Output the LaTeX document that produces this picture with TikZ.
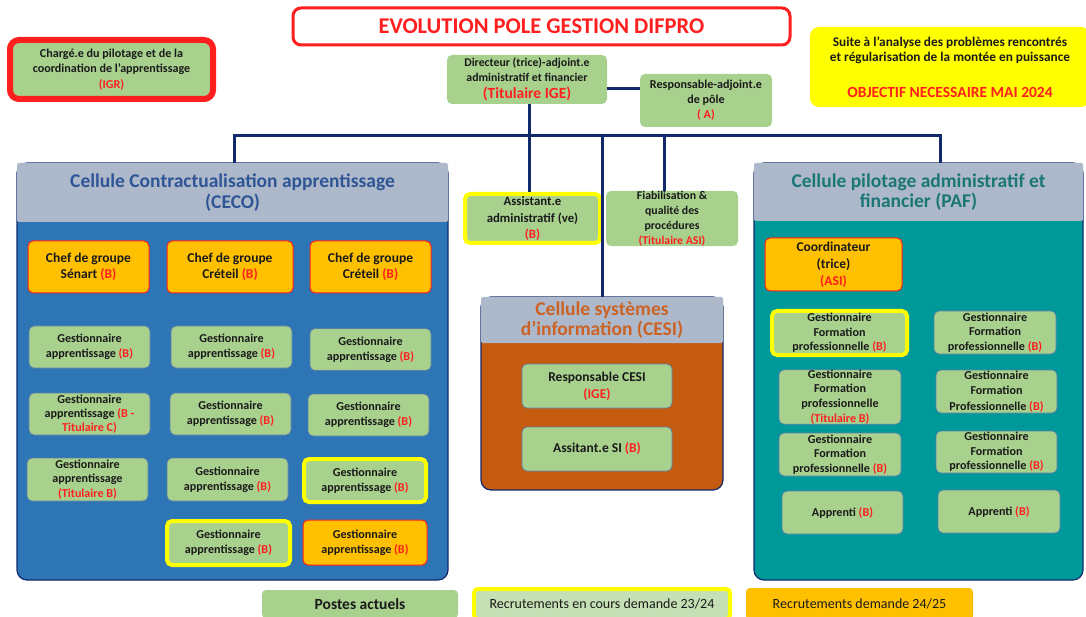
\documentclass[tikz,border=0pt]{standalone}
\usepackage{fontspec}
\setmainfont{Carlito}
\definecolor{gfill}{HTML}{A9D18E}
\definecolor{lgfill}{HTML}{C5E0B4}
\definecolor{ofill}{HTML}{FFC000}
\definecolor{tred}{HTML}{FF1F1F}
\definecolor{yel}{HTML}{FFFF00}
\definecolor{navy}{HTML}{102A6B}
\definecolor{hgray}{HTML}{ADB9CA}
\definecolor{cecob}{HTML}{2E75B6}
\definecolor{cecot}{HTML}{2F5597}
\definecolor{cesib}{HTML}{C55A11}
\definecolor{cesit}{HTML}{CC6224}
\definecolor{pafb}{HTML}{009999}
\definecolor{paft}{HTML}{1B7676}
\definecolor{bbord}{HTML}{5A7FA8}
\definecolor{txt}{HTML}{1A1A1A}
\newcommand{\redtx}[1]{\textcolor{tred}{#1}}
\tikzset{
  box/.style={rounded corners=5pt, align=center, inner sep=0pt, text=txt,
              font=\fontsize{12.1}{15}\selectfont\bfseries},
  gbox/.style={box, fill=gfill, draw=bbord, line width=0.7pt},
  obox/.style={box, fill=ofill, draw=tred, line width=1pt},
  ybox/.style={box, fill=gfill, draw=yel, line width=4pt},
  chef/.style={obox, font=\fontsize{13.5}{16.5}\selectfont\bfseries},
  link/.style={draw=navy, line width=3pt},
  cell/.style={draw=navy, line width=1.2pt, rounded corners=10pt, inner sep=0pt},
  hdr/.style={fill=hgray, rounded corners=2pt, inner sep=0pt, align=center,
              font=\fontsize{19.5}{20.5}\selectfont\bfseries}
}
\begin{document}
\begin{tikzpicture}[x=1pt,y=-1pt]
\useasboundingbox (0,0) rectangle (1086,617);
\clip (0,0) rectangle (1086,617);

% top
\node[box, draw=tred, line width=3pt, fill=white, rounded corners=8pt,
      minimum width=497, minimum height=37, text=tred,
      font=\fontsize{22.5}{26}\selectfont\bfseries] (title) at (541.5,26.5) {EVOLUTION POLE GESTION DIFPRO};
\node[box, fill=gfill, draw=tred, line width=6pt, rounded corners=9pt,
      minimum width=203, minimum height=59, font=\fontsize{12.1}{15.5}\selectfont\bfseries] (igr) at (111.5,69.5)
      {Chargé.e du pilotage et de la\\coordination de l'apprentissage\\\redtx{(IGR)}};
\node[box, fill=gfill, minimum width=160, minimum height=49, font=\fontsize{11.8}{14.5}\selectfont\bfseries] (dir) at (527,79.5)
      {Directeur (trice)-adjoint.e\\administratif et financier\\[3pt]{\fontsize{15.5}{17}\selectfont\bfseries\redtx{(Titulaire IGE)}}};
\node[box, fill=gfill, minimum width=132, minimum height=53] (resp) at (706,100.5)
      {Responsable-adjoint.e\\de pôle\\\redtx{( A)}};
\node[box, fill=yel, rounded corners=9pt, minimum width=280, minimum height=80,
      font=\fontsize{13.3}{15.7}\selectfont\bfseries] (note) at (950,67)
      {Suite à l'analyse des problèmes rencontrés\\et régularisation de la montée en puissance\\[20pt]{\fontsize{15.5}{18}\selectfont\redtx{OBJECTIF NECESSAIRE MAI 2024}}};

% cells
\node[cell, fill=cecob, minimum width=431, minimum height=417] (ceco) at (232.5,371.5) {};
\node[hdr, minimum width=431, minimum height=59, text=cecot] (cecoH) at (232.5,192.5)
      {Cellule Contractualisation apprentissage\\(CECO)};
\node[cell, fill=cesib, minimum width=242, minimum height=193] (cesi) at (602,393.5) {};
\node[hdr, minimum width=242, minimum height=46, text=cesit] (cesiH) at (602,320)
      {Cellule systèmes\\d'information (CESI)};
\node[cell, fill=pafb, minimum width=329, minimum height=417] (paf) at (918.5,371.5) {};
\node[hdr, minimum width=329, minimum height=58, text=paft] (pafH) at (918.5,192)
      {Cellule pilotage administratif et\\financier (PAF)};

% middle boxes
\node[ybox, minimum width=135, minimum height=49, font=\fontsize{12.8}{16.5}\selectfont\bfseries] (asst) at (532.5,218.5)
      {Assistant.e\\administratif (ve)\\\redtx{(B)}};
\node[box, fill=gfill, minimum width=132, minimum height=49, font=\fontsize{11.8}{15}\selectfont\bfseries] (fiab) at (672,218.5)
      {Fiabilisation \&\\qualité des\\procédures\\\redtx{(Titulaire ASI)}};

% connectors
\coordinate (busL) at (234,136);
\coordinate (busR) at (940,136);
\coordinate (fx) at (664,136);
\coordinate (dy) at (0,89);
\draw[link] (busL |- cecoH.north) -- (busL) -- (busR) -- (busR |- pafH.north);
\draw[link] ([xshift=2pt]dir.south) -- ([xshift=2pt]dir.south |- asst.north);
\draw[link] (cesiH.north |- busL) -- (cesiH.north);
\draw[link] (fx) -- (fx |- fiab.north);
\draw[link] (dir.east |- dy) -- (resp.west |- dy);

% CECO content
\node[chef, minimum width=121, minimum height=52] (c1) at (88.5,267) {Chef de groupe\\Sénart \redtx{(B)}};
\node[chef, minimum width=126, minimum height=52] (c2) at (230,267) {Chef de groupe\\Créteil \redtx{(B)}};
\node[chef, minimum width=121, minimum height=52] (c3) at (370.5,267) {Chef de groupe\\Créteil \redtx{(B)}};

\node[gbox, minimum width=121, minimum height=42] (g21) at (89.5,347) {Gestionnaire\\apprentissage \redtx{(B)}};
\node[gbox, minimum width=121, minimum height=42] (g22) at (231.5,347) {Gestionnaire\\apprentissage \redtx{(B)}};
\node[gbox, minimum width=121, minimum height=42] (g23) at (370.5,349.5) {Gestionnaire\\apprentissage \redtx{(B)}};

\node[gbox, minimum width=121, minimum height=42, font=\fontsize{12.1}{14}\selectfont\bfseries] (g31) at (89.5,414)
      {Gestionnaire\\apprentissage \redtx{(B -}\\\redtx{Titulaire C)}};
\node[gbox, minimum width=121, minimum height=42] (g32) at (230.5,414) {Gestionnaire\\apprentissage \redtx{(B)}};
\node[gbox, minimum width=121, minimum height=42] (g33) at (368.5,415) {Gestionnaire\\apprentissage \redtx{(B)}};

\node[gbox, minimum width=121, minimum height=43, font=\fontsize{12.1}{14.5}\selectfont\bfseries] (g41) at (87.5,479.5)
      {Gestionnaire\\apprentissage\\\redtx{(Titulaire B)}};
\node[gbox, minimum width=121, minimum height=43] (g42) at (227.5,479.5) {Gestionnaire\\apprentissage \redtx{(B)}};
\node[ybox, minimum width=122, minimum height=43] (g43) at (365,480.5) {Gestionnaire\\apprentissage \redtx{(B)}};

\node[ybox, minimum width=123, minimum height=44] (g52) at (228.5,543) {Gestionnaire\\apprentissage \redtx{(B)}};
\node[obox, minimum width=124, minimum height=45] (g53) at (365,542.5) {Gestionnaire\\apprentissage \redtx{(B)}};

% CESI content
\node[gbox, minimum width=150, minimum height=44, font=\fontsize{13.5}{17}\selectfont\bfseries] (rcesi) at (597,386)
      {Responsable CESI\\\redtx{(IGE)}};
\node[gbox, minimum width=150, minimum height=44, font=\fontsize{13.5}{17}\selectfont\bfseries] (asi) at (597,449)
      {Assitant.e SI \redtx{(B)}};

% PAF content
\node[obox, minimum width=137, minimum height=53, font=\fontsize{13.5}{17}\selectfont\bfseries] (coord) at (833.5,264.5)
      {Coordinateur\\(trice)\\\redtx{(ASI)}};
\node[ybox, minimum width=135, minimum height=44, font=\fontsize{12.1}{14.5}\selectfont\bfseries] (f11) at (839.5,333)
      {Gestionnaire\\Formation\\professionnelle \redtx{(B)}};
\node[gbox, minimum width=122, minimum height=43, font=\fontsize{12.1}{14.5}\selectfont\bfseries] (f12) at (995,332.5)
      {Gestionnaire\\Formation\\professionnelle \redtx{(B)}};
\node[gbox, minimum width=122, minimum height=54, font=\fontsize{12.1}{14.7}\selectfont\bfseries] (f21) at (840,397)
      {Gestionnaire\\Formation\\professionnelle\\\redtx{(Titulaire B)}};
\node[gbox, minimum width=121, minimum height=43, font=\fontsize{12.1}{15.3}\selectfont\bfseries] (f22) at (996.5,391.5)
      {Gestionnaire\\Formation\\Professionnelle \redtx{(B)}};
\node[gbox, minimum width=122, minimum height=43, font=\fontsize{12.1}{14.5}\selectfont\bfseries] (f31) at (840,454.5)
      {Gestionnaire\\Formation\\professionnelle \redtx{(B)}};
\node[gbox, minimum width=121, minimum height=42, font=\fontsize{12.1}{14.5}\selectfont\bfseries] (f32) at (996.5,452)
      {Gestionnaire\\Formation\\professionnelle \redtx{(B)}};
\node[gbox, minimum width=121, minimum height=43] (ap1) at (842.5,512.5) {Apprenti \redtx{(B)}};
\node[gbox, minimum width=122, minimum height=43] (ap2) at (999,511.5) {Apprenti \redtx{(B)}};

% legend
\node[box, fill=gfill, rounded corners=4pt, minimum width=196, minimum height=28,
      font=\fontsize{15.5}{18}\selectfont\bfseries] (leg1) at (360,604) {Postes actuels};
\node[box, fill=lgfill, draw=yel, line width=4pt, rounded corners=4pt, minimum width=256, minimum height=30,
      font=\fontsize{14}{17}\selectfont] (leg2) at (602,604) {Recrutements en cours demande 23/24};
\node[box, fill=ofill, rounded corners=4pt, minimum width=227, minimum height=32,
      font=\fontsize{14}{17}\selectfont] (leg3) at (859.5,604) {Recrutements demande 24/25};
\end{tikzpicture}
\end{document}
